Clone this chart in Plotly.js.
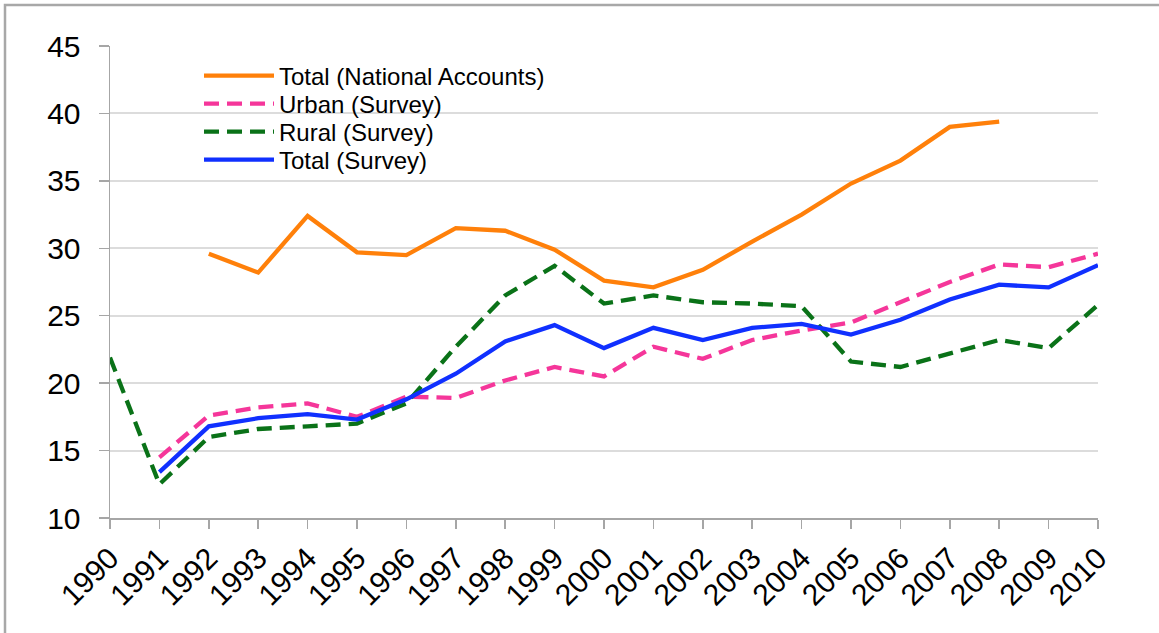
<!DOCTYPE html>
<html>
<head>
<meta charset="utf-8">
<script src="https://cdn.plot.ly/plotly-3.0.1.min.js"></script>
<style>html,body{margin:0;padding:0;background:#fff;}#chart{width:1159px;height:633px;}</style>
</head>
<body>
<div id="chart"></div>
<script>
const years = [1990,1991,1992,1993,1994,1995,1996,1997,1998,1999,2000,2001,2002,2003,2004,2005,2006,2007,2008,2009,2010];
const yearLabels = years.map(String);
const totalNational = [null,null,29.6,28.2,32.4,29.7,29.5,31.5,31.3,29.9,27.6,27.1,28.4,30.5,32.5,34.8,36.5,39.0,39.4,null,null];
const urbanSurvey = [null,14.5,17.6,18.2,18.5,17.5,19.0,18.9,20.2,21.2,20.5,22.7,21.8,23.2,23.9,24.5,26.0,27.5,28.8,28.6,29.6];
const ruralSurvey = [21.9,12.5,16.0,16.6,16.8,17.0,18.5,22.7,26.5,28.7,25.9,26.5,26.0,25.9,25.7,21.6,21.2,22.2,23.2,22.6,25.8];
const totalSurvey = [null,13.4,16.8,17.4,17.7,17.3,18.8,20.7,23.1,24.3,22.6,24.1,23.2,24.1,24.4,23.6,24.7,26.2,27.3,27.1,28.75];
const seriesNames = ["Total (National Accounts)","Urban (Survey)","Rural (Survey)","Total (Survey)"];

const traces = [
  {x: years, y: totalNational, name: seriesNames[0], mode: 'lines', legend: 'legend', line: {color: '#ff800a', width: 4.3}},
  {x: years, y: urbanSurvey, name: seriesNames[1], mode: 'lines', legend: 'legend2', line: {color: '#f5369a', width: 4.3, dash: '15px,8px'}},
  {x: years, y: ruralSurvey, name: seriesNames[2], mode: 'lines', legend: 'legend3', line: {color: '#0a7218', width: 4.3, dash: '15px,8px'}},
  {x: years, y: totalSurvey, name: seriesNames[3], mode: 'lines', legend: 'legend4', line: {color: '#1030ff', width: 4.3}}
];

const plotL = 110, plotR = 1098, plotT = 46, plotB = 518;
const pw = plotR - plotL, ph = plotB - plotT;
const rowY = [76, 104, 132, 160];
function leg(i) {
  return {
    x: (199 - plotL) / pw, y: (plotB - rowY[i]) / ph,
    xanchor: 'left', yanchor: 'middle',
    bgcolor: 'rgba(0,0,0,0)', font: {size: 24, color: '#000'},
    itemwidth: 70
  };
}

const layout = {
  width: 1159, height: 633,
  margin: {l: plotL, r: 1159 - plotR, t: plotT, b: 633 - plotB},
  paper_bgcolor: '#fff', plot_bgcolor: '#fff',
  font: {family: 'Liberation Sans, Arial, sans-serif', color: '#000'},
  showlegend: true,
  legend: leg(0), legend2: leg(1), legend3: leg(2), legend4: leg(3),
  xaxis: {
    range: [1990, 2010], tickvals: years, ticktext: yearLabels,
    tickangle: -45, tickfont: {size: 30},
    showgrid: false, zeroline: false,
    showline: true, linecolor: '#a6a6a6', linewidth: 1.5,
    ticks: 'outside', ticklen: 9, tickcolor: '#a6a6a6', tickwidth: 1.5
  },
  yaxis: {
    range: [10, 45], dtick: 5, tickfont: {size: 30},
    showgrid: true, gridcolor: '#dcdcdc', gridwidth: 2,
    zeroline: false, showline: true, linecolor: '#a6a6a6', linewidth: 1.5,
    ticks: 'outside', ticklen: 10, tickcolor: '#a6a6a6', tickwidth: 1.5,
    ticklabelstandoff: 12
  },
  shapes: [
    {
      type: 'rect', xref: 'paper', yref: 'paper',
      x0: (5 - plotL) / pw, x1: (1170 - plotL) / pw,
      y0: (plotB - 650) / ph, y1: (plotB - 5) / ph,
      line: {color: '#a8a8a8', width: 2.5}, fillcolor: 'rgba(0,0,0,0)', layer: 'below'
    },
    {
      type: 'rect', xref: 'paper', yref: 'paper',
      x0: (133 - plotL) / pw, x1: (598 - plotL) / pw,
      y0: (plotB - 176) / ph, y1: (plotB - 52) / ph,
      line: {width: 0}, fillcolor: '#fff', layer: 'between'
    }
  ]
};

Plotly.newPlot('chart', traces, layout, {displayModeBar: false, staticPlot: true});
</script>
</body>
</html>
